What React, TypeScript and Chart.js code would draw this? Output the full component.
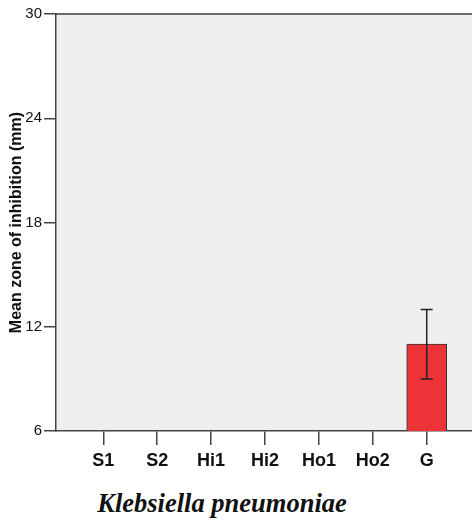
import React, { useEffect, useRef } from "react";
import { Chart, registerables } from "chart.js";

Chart.register(...registerables);

const categories = ["S1", "S2", "Hi1", "Hi2", "Ho1", "Ho2", "G"];
const means: (number | null)[] = [null, null, null, null, null, null, 11];
const errLow: (number | null)[] = [null, null, null, null, null, null, 9];
const errHigh: (number | null)[] = [null, null, null, null, null, null, 13];
const yTicks = [6, 12, 18, 24, 30];
const yTitle = "Mean zone of inhibition (mm)";
const chartTitle = "Klebsiella pneumoniae";

const plotBgPlugin = {
  id: "plotBg",
  beforeDraw(chart: any) {
    const { ctx, chartArea } = chart;
    if (!chartArea) return;
    ctx.save();
    ctx.fillStyle = "#efefef";
    ctx.fillRect(chartArea.left, chartArea.top, chartArea.right - chartArea.left, chartArea.bottom - chartArea.top);
    ctx.strokeStyle = "#6a6a6a";
    ctx.lineWidth = 2;
    ctx.beginPath();
    ctx.moveTo(chartArea.left, chartArea.top);
    ctx.lineTo(chartArea.right, chartArea.top);
    ctx.stroke();
    ctx.restore();
  },
};

const errorBarPlugin = {
  id: "errorBars",
  afterDatasetsDraw(chart: any) {
    const { ctx } = chart;
    const xs = chart.scales.x;
    const ys = chart.scales.y;
    ctx.save();
    ctx.strokeStyle = "#222";
    ctx.lineWidth = 1.5;
    categories.forEach((_, i) => {
      const lo = errLow[i];
      const hi = errHigh[i];
      if (lo == null || hi == null) return;
      const x = xs.getPixelForValue(i);
      const yl = ys.getPixelForValue(lo);
      const yh = ys.getPixelForValue(hi);
      ctx.beginPath();
      ctx.moveTo(x, yl);
      ctx.lineTo(x, yh);
      ctx.moveTo(x - 6, yh);
      ctx.lineTo(x + 6, yh);
      ctx.moveTo(x - 6, yl);
      ctx.lineTo(x + 6, yl);
      ctx.stroke();
    });
    ctx.restore();
  },
};

export default function App() {
  const canvasRef = useRef<HTMLCanvasElement | null>(null);

  useEffect(() => {
    if (!canvasRef.current) return;
    const chart = new Chart(canvasRef.current, {
      type: "bar",
      data: {
        datasets: [
          {
            data: categories.map((_, i) => ({ x: i, y: means[i] })) as any,
            backgroundColor: "#ee3338",
            borderColor: "#333333",
            borderWidth: 1,
            barThickness: 40,
          },
        ],
      },
      options: {
        animation: false,
        responsive: true,
        maintainAspectRatio: false,
        layout: { padding: { top: 14, right: 0, bottom: 0, left: 0 } },
        plugins: {
          legend: { display: false },
          tooltip: { enabled: false },
        },
        scales: {
          x: {
            type: "linear",
            offset: false,
            min: -0.877,
            max: 6.84,
            afterBuildTicks(scale: any) {
              scale.ticks = categories.map((_, i) => ({ value: i }));
            },
            afterFit(scale: any) {
              scale.height = 49;
            },
            ticks: {
              autoSkip: false,
              maxRotation: 0,
              padding: 5,
              color: "#111",
              font: { family: "'Liberation Sans', Arial, sans-serif", size: 18, weight: "bold" },
              callback: (v: any) => categories[Math.round(Number(v))] ?? "",
            },
            grid: { offset: false, drawOnChartArea: false, drawTicks: true, tickLength: 14, color: "#444", lineWidth: 1.5 },
            border: { color: "#444", width: 1.5 },
          },
          y: {
            min: 6,
            max: 30,
            afterBuildTicks(scale: any) {
              scale.ticks = yTicks.map((v) => ({ value: v }));
            },
            afterFit(scale: any) {
              scale.width = 56;
            },
            ticks: {
              padding: 2,
              color: "#111",
              font: { family: "'Liberation Sans', Arial, sans-serif", size: 15 },
            },
            grid: { drawOnChartArea: false, drawTicks: true, tickLength: 12, color: "#444", lineWidth: 1.5 },
            border: { color: "#444", width: 1.5 },
            title: {
              display: true,
              text: yTitle,
              color: "#111",
              padding: { top: 7, bottom: 0 },
              font: { family: "'Liberation Sans', Arial, sans-serif", size: 16, weight: "bold" },
            },
          },
        },
      },
      plugins: [plotBgPlugin, errorBarPlugin],
    });
    return () => chart.destroy();
  }, []);

  return (
    <div style={{ position: "absolute", left: 0, top: 0, width: 472, height: 521, overflow: "hidden", background: "#fff" }}>
      <div style={{ position: "relative", width: 472, height: 480 }}>
        <canvas ref={canvasRef} />
      </div>
      <div
        style={{
          position: "absolute",
          left: 0,
          top: 489,
          width: 444,
          textAlign: "center",
          fontFamily: "'Liberation Serif', 'Times New Roman', serif",
          fontWeight: "bold",
          fontStyle: "italic",
          fontSize: 26.5,
          lineHeight: "28px",
          color: "#111",
        }}
      >
        {chartTitle}
      </div>
    </div>
  );
}
